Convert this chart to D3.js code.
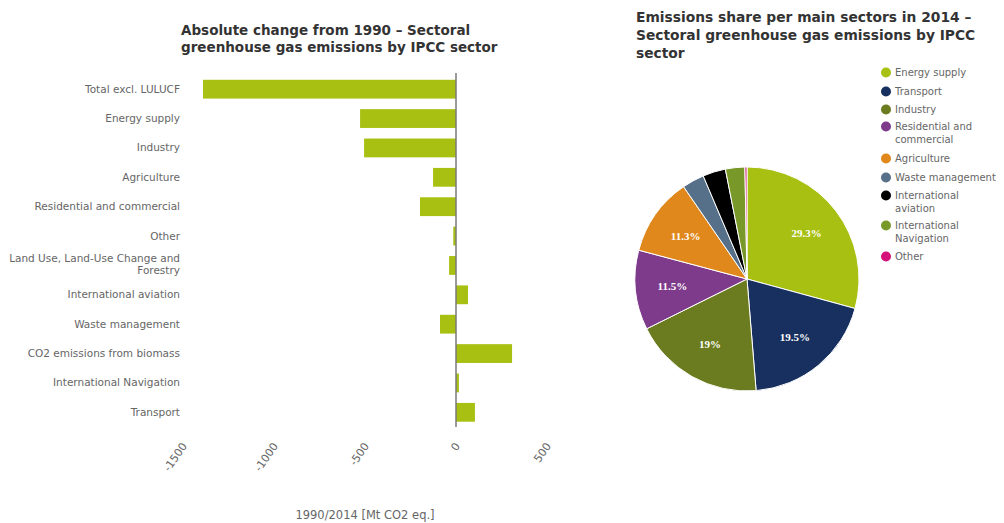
<!DOCTYPE html>
<html><head><meta charset="utf-8">
<script src="https://cdn.jsdelivr.net/npm/d3@7"></script>
<style>body{margin:0;background:#fff}svg{display:block}</style>
</head><body>
<svg id="c" width="1004" height="523"></svg>
<script>
// ---- data ----
const categories = ["Total excl. LULUCF","Energy supply","Industry","Agriculture","Residential and commercial","Other","Land Use, Land-Use Change and Forestry","International aviation","Waste management","CO2 emissions from biomass","International Navigation","Transport"];
const changeValues = [-1390,-527,-505,-126,-198,-15,-38,66,-88,308,16,104];
const xTicks = [-1500,-1000,-500,0,500];
const pieSectors = ["Energy supply","Transport","Industry","Residential and commercial","Agriculture","Waste management","International aviation","International Navigation","Other"];
const pieShares = [29.3,19.5,19,11.5,11.3,3.2,3.3,2.8,0.3];
const pieColors = ["#a8c012","#17305f","#6b7b1f","#7e3b8c","#e0881c","#56708a","#000000","#78982a","#d4127a"];
const legendLabels = [["Energy supply"],["Transport"],["Industry"],["Residential and","commercial"],["Agriculture"],["Waste management"],["International","aviation"],["International","Navigation"],["Other"]];

const svg = d3.select("#c");
const font = "DejaVu Sans, Verdana, sans-serif";

// ---- left bar chart ----
const x = d3.scaleLinear().domain([-1500,500]).range([183,547]);
const y = d3.scaleBand().domain(categories).range([74.5,427]).paddingInner(0.36).paddingOuter(0.18);

const title1 = svg.append("text").attr("x",181).attr("y",35).attr("font-family",font).attr("font-weight","bold").attr("font-size",13.5).attr("fill","#333");
title1.append("tspan").attr("x",181).attr("dy",0).text("Absolute change from 1990 \u2013 Sectoral");
title1.append("tspan").attr("x",181).attr("dy",17).text("greenhouse gas emissions by IPCC sector");

svg.append("g").selectAll("rect").data(categories).join("rect")
  .attr("x",(d,i)=>x(Math.min(0,changeValues[i])))
  .attr("width",(d,i)=>Math.abs(x(changeValues[i])-x(0)))
  .attr("y",d=>y(d)).attr("height",y.bandwidth())
  .attr("fill","#a8c012");

// zero line
svg.append("line").attr("x1",x(0)).attr("x2",x(0)).attr("y1",73).attr("y2",427).attr("stroke","#7a7a7a").attr("stroke-width",1.5);

// category labels
const catLab = svg.append("g").selectAll("text").data(categories).join("text")
  .attr("x",180).attr("text-anchor","end").attr("font-family",font).attr("font-size",10.5).attr("fill","#666");
catLab.each(function(d){
  const t = d3.select(this);
  const cy = y(d)+y.bandwidth()/2;
  if(d.startsWith("Land Use")){
    t.attr("y",cy-3);
    t.append("tspan").attr("x",180).text("Land Use, Land-Use Change and");
    t.append("tspan").attr("x",180).attr("dy",12).text("Forestry");
  } else {
    t.attr("y",cy+3.5).text(d);
  }
});

// x axis
const xAxis = svg.append("g").attr("transform","translate(0,445)").call(d3.axisBottom(x).tickValues(xTicks).tickSize(0).tickFormat(d=>String(d)));
xAxis.select(".domain").remove();
xAxis.selectAll("text").attr("font-family",font).attr("font-size",11).attr("fill","#666")
  .attr("text-anchor","end").attr("dy",0).attr("y",0)
  .attr("transform","translate(4,1) rotate(-55)");

svg.append("text").attr("x",365).attr("y",519).attr("text-anchor","middle").attr("font-family",font).attr("font-size",11.5).attr("fill","#666").text("1990/2014 [Mt CO2 eq.]");

// ---- right pie chart ----
const title2 = svg.append("text").attr("x",636).attr("y",22).attr("font-family",font).attr("font-weight","bold").attr("font-size",13.8).attr("fill","#333");
title2.append("tspan").attr("x",636).attr("dy",0).text("Emissions share per main sectors in 2014 \u2013");
title2.append("tspan").attr("x",636).attr("dy",18).text("Sectoral greenhouse gas emissions by IPCC");
title2.append("tspan").attr("x",636).attr("dy",18).text("sector");

const color = d3.scaleOrdinal().domain(pieSectors).range(pieColors);
const cx = 747, cy = 279, r = 112;
const pie = d3.pie().sort(null).value(d=>d.v);
const arcs = pie(pieSectors.map((s,i)=>({s, v: pieShares[i]})));
const arc = d3.arc().innerRadius(0).outerRadius(r);
const labArc = d3.arc().innerRadius(r*0.67).outerRadius(r*0.67);
const pg = svg.append("g").attr("transform",`translate(${cx},${cy})`);
pg.selectAll("path").data(arcs).join("path").attr("d",arc).attr("fill",d=>color(d.data.s)).attr("stroke","#fff").attr("stroke-width",1);
pg.selectAll("text").data(arcs.filter(d=>d.data.v>5)).join("text")
  .attr("transform",d=>`translate(${labArc.centroid(d)})`)
  .attr("text-anchor","middle").attr("dy","0.35em")
  .attr("font-family","Liberation Serif, serif").attr("font-weight","bold").attr("font-size",11).attr("fill","#fff")
  .text(d=>d.data.v+"%");

// legend
const legY = [76,95,113,130,162,181,199,229,260];
const lg = svg.append("g");
pieSectors.forEach((s,i)=>{
  lg.append("circle").attr("cx",886).attr("cy",legY[i]-3.5).attr("r",5).attr("fill",color(s));
  const t = lg.append("text").attr("x",895).attr("y",legY[i]).attr("font-family",font).attr("font-size",10).attr("fill","#666");
  legendLabels[i].forEach((ln,j)=>t.append("tspan").attr("x",895).attr("dy",j?13:0).text(ln));
});
</script>
</body></html>
